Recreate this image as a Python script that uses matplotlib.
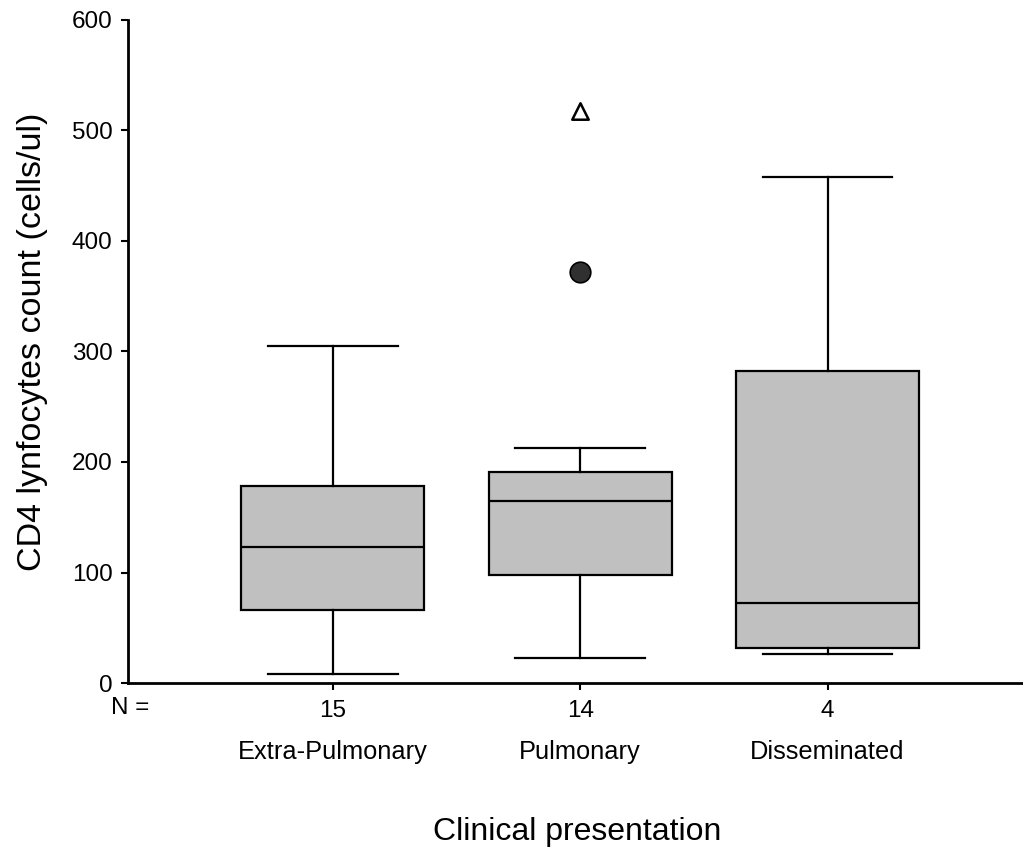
import matplotlib
matplotlib.use("Agg")
import matplotlib.pyplot as plt
import matplotlib.transforms as mtransforms

plt.rcParams['font.family'] = ['Liberation Sans', 'DejaVu Sans']

categories = ["Extra-Pulmonary", "Pulmonary", "Disseminated"]
counts = [15, 14, 4]
whisker_low = [8, 23, 26]
q1 = [66, 98, 32]
median = [123, 165, 72]
q3 = [178, 191, 282]
whisker_high = [305, 213, 458]
outlier_values = [372]
outlier_group = [2]
extreme_values = [517]
extreme_group = [2]
yticks = [0, 100, 200, 300, 400, 500, 600]

fig = plt.figure(figsize=(10.23, 8.56), dpi=100)
ax = fig.add_axes([0.125, 0.202, 0.875, 0.775])

stats = []
for i in range(len(categories)):
    stats.append(dict(med=median[i], q1=q1[i], q3=q3[i],
                      whislo=whisker_low[i], whishi=whisker_high[i],
                      fliers=[], label=str(counts[i])))
positions = list(range(1, len(categories) + 1))
ax.bxp(stats, positions=positions, widths=0.74, patch_artist=True,
       showfliers=False,
       boxprops=dict(facecolor='#c0c0c0', edgecolor='black', linewidth=1.6),
       medianprops=dict(color='black', linewidth=1.6),
       whiskerprops=dict(color='black', linewidth=1.6),
       capprops=dict(color='black', linewidth=1.6),
       capwidths=0.525)

ax.scatter(outlier_group, outlier_values, s=220, marker='o',
           facecolor='#303030', edgecolor='black', linewidth=1.2, zorder=3)
ax.scatter(extreme_group, extreme_values, s=140, marker='^',
           facecolor='white', edgecolor='black', linewidth=1.8, zorder=3)

ax.set_xlim(0.172, 3.79)
ax.set_ylim(0, 600)
ax.set_yticks(yticks)
ax.set_xticks(positions)
ax.set_xticklabels([str(c) for c in counts])
ax.tick_params(axis='both', labelsize=17.5, width=1.5, length=5, direction='out',
               color='black')
ax.tick_params(axis='x', pad=7)
ax.tick_params(axis='y', pad=6)
for s in ['top', 'right']:
    ax.spines[s].set_visible(False)
for s in ['left', 'bottom']:
    ax.spines[s].set_linewidth(2)

trans = mtransforms.blended_transform_factory(ax.transData, ax.transAxes)
ax.text(0.003, -0.038, "N =", transform=ax.transAxes, ha='center', va='center',
        fontsize=17.5)
for p, c in zip(positions, categories):
    ax.text(p, -0.104, c, transform=trans, ha='center', va='center', fontsize=18.3)

ax.set_ylabel("CD4 lynfocytes count (cells/ul)", fontsize=24.5)
ax.yaxis.set_label_coords(-0.107, 0.514)
ax.yaxis.label.set_va('center')
ax.set_xlabel("Clinical presentation", fontsize=23)
ax.xaxis.set_label_coords(0.502, -0.225)
ax.xaxis.label.set_va('center')

fig.savefig("out.png", dpi=100)
